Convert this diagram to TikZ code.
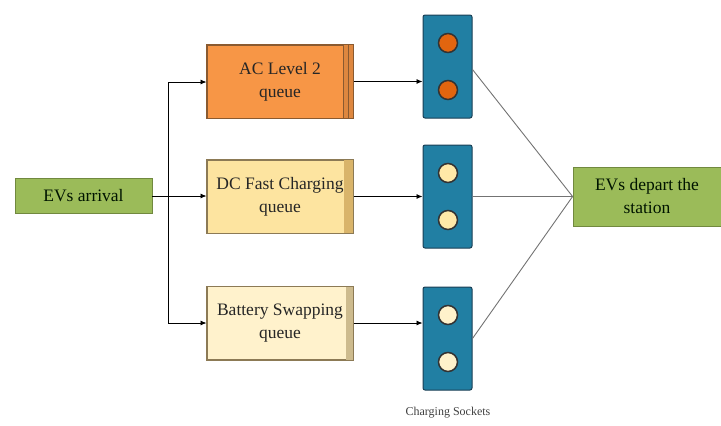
\documentclass[tikz,border=0pt]{standalone}
\usepackage{fontspec}
\setmainfont{Liberation Serif}
\usetikzlibrary{arrows.meta}
\definecolor{gfill}{HTML}{9BBB59}
\definecolor{gdraw}{HTML}{71893F}
\definecolor{acfill}{HTML}{F79646}
\definecolor{acdraw}{HTML}{8A5A30}
\definecolor{dcfill}{HTML}{FDE4A0}
\definecolor{dcband}{HTML}{D9B46A}
\definecolor{bsfill}{HTML}{FFF2CC}
\definecolor{bsband}{HTML}{CDBB8E}
\definecolor{qdraw}{HTML}{8C7A55}
\definecolor{sockfill}{HTML}{217FA3}
\definecolor{sockdraw}{HTML}{1A3F55}
\definecolor{dotor}{HTML}{E2650F}
\definecolor{dotye}{HTML}{FFE9A8}
\tikzset{
  bigtext/.style={align=center, font=\fontsize{17.5}{23}\selectfont, inner sep=0pt},
  greenbox/.style={draw=gdraw, fill=gfill, line width=0.8pt, bigtext, text=black!80!green!40!black},
  qbox/.style={draw=qdraw, line width=1pt, minimum width=146pt, minimum height=73pt},
  qtext/.style={bigtext, text=black!85},
  sock/.style={draw=sockdraw, fill=sockfill, line width=1pt, rounded corners=2pt, minimum width=49pt, minimum height=103pt},
  dot/.style={circle, draw=black!80, line width=1.5pt, minimum size=19pt, inner sep=0pt},
  arr/.style={-{Latex[length=6pt,width=5pt]}, line width=0.8pt, black},
  conv/.style={line width=0.9pt, black!55},
}
\begin{document}
\begin{tikzpicture}[x=1pt,y=-1pt]
\useasboundingbox (0,0) rectangle (721,426);
% green boxes
\node[greenbox, minimum width=137pt, minimum height=35pt] (arr) at (83.5,196) {EVs arrival};
\node[greenbox, minimum width=148pt, minimum height=59pt] (dep) at (647,196.5) {EVs depart the\\station};
% queues
\node[qbox, fill=acfill, draw=acdraw] (ac) at (280,81.5) {};
\fill[acfill!90!black] (ac.north east) ++(-10,0) rectangle (ac.south east);
\draw[acdraw, line width=0.8pt] (ac.north east) ++(-10,0) -- ++(0,73);
\draw[acdraw, line width=0.8pt] (ac.north east) ++(-5,0) -- ++(0,73);
\draw[acdraw, line width=1pt] (ac.north west) rectangle (ac.south east);
\node[qtext] (actx) at (ac.center) {AC Level 2\\queue};

\node[qbox, fill=dcfill] (dc) at (280,196.5) {};
\fill[dcband] (dc.north east) ++(-10,0) rectangle (dc.south east);
\draw[qdraw, line width=1pt] (dc.north west) rectangle (dc.south east);
\node[qtext] (dctx) at (dc.center) {DC Fast Charging\\queue};

\node[qbox, fill=bsfill] (bs) at (280,323) {};
\fill[bsband] (bs.north east) ++(-8,0) rectangle (bs.south east);
\draw[qdraw, line width=1pt] (bs.north west) rectangle (bs.south east);
\node[qtext] (bstx) at (bs.center) {Battery Swapping\\queue};

% sockets
\node[sock] (s1) at (447.5,66.5) {};
\node[sock] (s2) at (447.5,196.5) {};
\node[sock] (s3) at (447.5,338.5) {};
\node[dot, fill=dotor] (d11) at (448,43) {};
\node[dot, fill=dotor] (d12) at (448,90) {};
\node[dot, fill=dotye] (d21) at (448,173) {};
\node[dot, fill=dotye] (d22) at (448,220) {};
\node[dot, fill=dotye!60!white] (d31) at (448,315) {};
\node[dot, fill=dotye!60!white] (d32) at (448,362) {};
\node[font=\fontsize{12}{14}\selectfont, text=black!75, inner sep=0pt] (lbl) at (448,413) {Charging Sockets};

% branching arrows
\coordinate (br) at (168,196);
\coordinate (brt) at (168,82);
\coordinate (brb) at (168,323);
\draw[line width=0.8pt] (arr.east) -- (br);
\draw[line width=0.8pt] (brt) -- (brb);
\draw[arr] (brt) -- (brt -| ac.west);
\draw[arr] (br) -- (br -| dc.west);
\draw[arr] (brb) -- (brb -| bs.west);

% queue to sockets
\draw[arr] (ac.east) -- (ac.east -| s1.west);
\draw[arr] (dc.east) -- (dc.east -| s2.west);
\draw[arr] (bs.east) -- (bs.east -| s3.west);

% converge to depart
\draw[conv] (s1.east) ++(0,3) -- (dep.west);
\draw[conv, line width=1.3pt] (s2.east) -- (dep.west);
\draw[conv] (s3.east) -- (dep.west);
\end{tikzpicture}
\end{document}
